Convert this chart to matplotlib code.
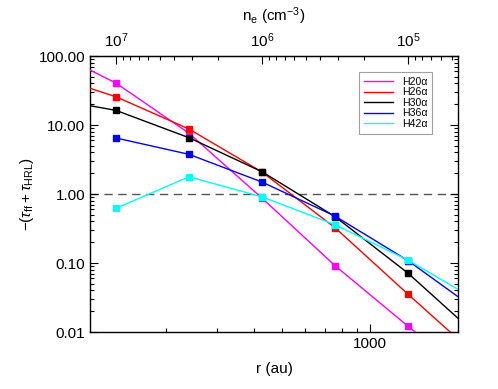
import numpy as np
import matplotlib
matplotlib.use("Agg")
import matplotlib.pyplot as plt
from matplotlib.ticker import LogLocator, FixedLocator, NullFormatter, FormatStrFormatter

plt.rcParams['font.family'] = ['Liberation Sans', 'DejaVu Sans']
plt.rcParams['font.size'] = 11
plt.rcParams['mathtext.fontset'] = 'custom'
plt.rcParams['mathtext.rm'] = 'Liberation Sans'
plt.rcParams['mathtext.it'] = 'Liberation Sans:italic'
plt.rcParams['mathtext.bf'] = 'Liberation Sans:bold'

# radius grid (au); first/last points fall outside the axis range
r_au = [76, 135, 240, 427, 759, 1350, 2400]

h20 = [137, 40.6, 7.6, 0.87, 0.0915, 0.0121, 0.00166]
h26 = [56.6, 25.7, 8.75, 2.08, 0.325, 0.0352, 0.00396]
h30 = [25.2, 16.3, 6.55, 2.10, 0.47, 0.071, 0.00787]
h36 = [np.nan, 6.49, 3.76, 1.49, 0.478, 0.108, 0.0186]
h42 = [np.nan, 0.62, 1.78, 0.91, 0.359, 0.110, 0.0264]

labels = ['H20α', 'H26α', 'H30α', 'H36α', 'H42α']
colors = ['#ff00ff', '#ff0000', '#000000', '#0000ff', '#00ffff']
series = [h20, h26, h30, h36, h42]

ne_ticks = [1e5, 1e6, 1e7]

# n_e = C / r^2, with n_e = 1e7 at r = 135 au
NE_CONST = 1e7 * 135.0 ** 2


def r2ne(r):
    r = np.asarray(r, dtype=float)
    return NE_CONST / np.clip(r, 1e-6, None) ** 2


def ne2r(ne):
    ne = np.asarray(ne, dtype=float)
    return np.sqrt(NE_CONST / np.clip(ne, 1e-12, None))


fig = plt.figure(figsize=(4.98, 3.89), dpi=100)
ax = fig.add_axes([0.1807, 0.1465, 0.739, 0.7095])

ax.axhline(1.0, color='#555555', lw=1.0, ls=(0, (6, 4)), zorder=1)

for vals, lab, col in zip(series, labels, colors):
    ax.plot(r_au, vals, color=col, lw=1.0, marker='s', ms=4.2,
            mec=col, mfc=col, label=lab, zorder=3)

ax.set_xscale('log')
ax.set_yscale('log')
ax.set_xlim(110, 2000)
ax.set_ylim(0.01, 100)

ax.xaxis.set_major_locator(FixedLocator([1000]))
ax.xaxis.set_major_formatter(FormatStrFormatter('%d'))
ax.xaxis.set_minor_locator(LogLocator(base=10, subs=np.arange(2, 10)))
ax.xaxis.set_minor_formatter(NullFormatter())

ax.yaxis.set_major_locator(LogLocator(base=10))
ax.yaxis.set_major_formatter(FormatStrFormatter('%.2f'))
ax.yaxis.set_minor_locator(LogLocator(base=10, subs=np.arange(2, 10)))
ax.yaxis.set_minor_formatter(NullFormatter())

ax.tick_params(which='both', direction='in', top=False, right=True)
ax.tick_params(which='major', length=6, width=0.8)
ax.tick_params(which='minor', length=3, width=0.8)

ax.set_xlabel('r (au)', labelpad=8)
ax.set_ylabel(r'$-(\tau_{\rm ff}+\tau_{\rm HRL})$', labelpad=2)

# top axis: electron density (decreasing with r)
sec = ax.secondary_xaxis('top', functions=(r2ne, ne2r))
sec.xaxis.set_major_locator(FixedLocator(ne_ticks))
sec.xaxis.set_minor_locator(LogLocator(base=10, subs=np.arange(2, 10)))
sec.xaxis.set_minor_formatter(NullFormatter())
sec.tick_params(which='both', direction='in')
sec.tick_params(which='major', length=6, width=0.8, pad=4)
sec.tick_params(which='minor', length=3, width=0.8)
sec.set_xlabel(r'n$_{\rm e}$ (cm$^{-3}$)', labelpad=8)

for sp in ax.spines.values():
    sp.set_linewidth(1.0)

leg = ax.legend(loc='upper right', bbox_to_anchor=(0.929, 0.942), fontsize=7.6,
                frameon=True, fancybox=False, edgecolor='#888888',
                handlelength=2.8, labelspacing=0.05, borderpad=0.45,
                handletextpad=0.8, borderaxespad=0.0, markerscale=0)
leg.get_frame().set_linewidth(0.8)
for h in leg.legend_handles:
    h.set_marker('')

fig.savefig('out.png', dpi=100)
